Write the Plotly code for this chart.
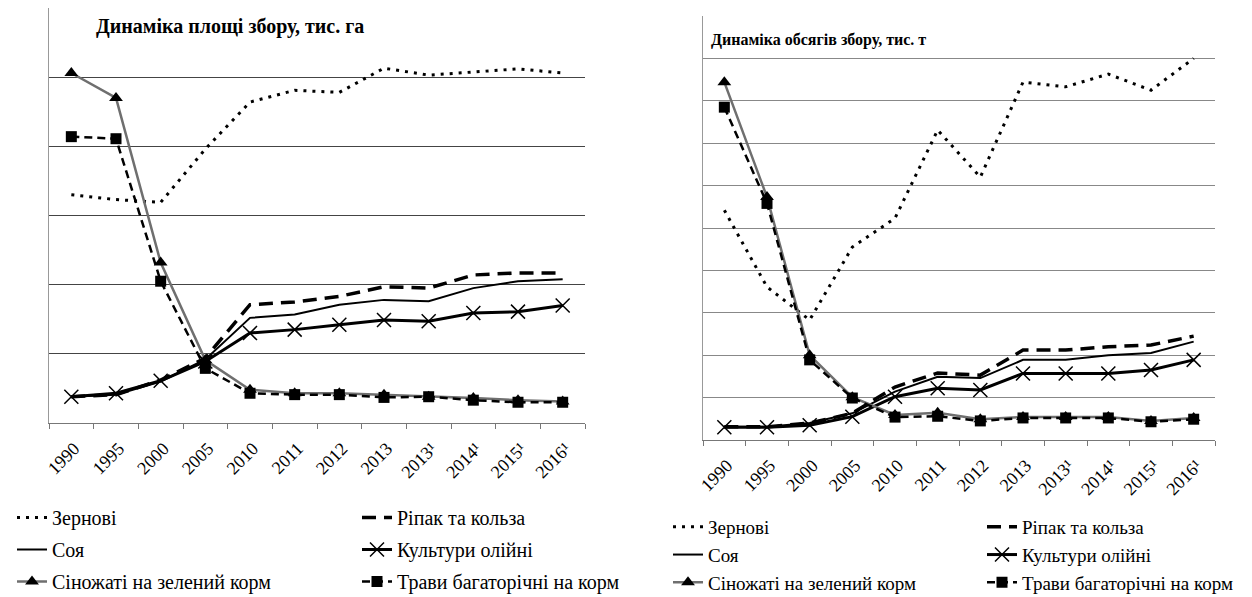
import plotly.graph_objects as go

categories = ["1990", "1995", "2000", "2005", "2010", "2011", "2012", "2013",
              "2013¹", "2014¹", "2015¹", "2016¹"]

# Left chart: area harvested (relative units)
area_grain = [3.30, 3.23, 3.19, 3.96, 4.64, 4.81, 4.78, 5.13, 5.03, 5.07, 5.12, 5.06]
area_rape = [0.38, 0.41, 0.62, 0.94, 1.71, 1.75, 1.83, 1.97, 1.95, 2.14, 2.17, 2.17]
area_soy = [0.38, 0.41, 0.60, 0.92, 1.52, 1.57, 1.71, 1.78, 1.76, 1.95, 2.05, 2.08]
area_oil = [0.38, 0.43, 0.61, 0.89, 1.30, 1.35, 1.42, 1.49, 1.47, 1.59, 1.61, 1.70]
area_hay = [5.06, 4.70, 2.32, 0.91, 0.48, 0.43, 0.43, 0.41, 0.38, 0.36, 0.33, 0.31]
area_grass = [4.14, 4.11, 2.05, 0.79, 0.43, 0.41, 0.41, 0.37, 0.38, 0.33, 0.30, 0.30]

# Right chart: harvest volume (relative units)
vol_grain = [5.42, 3.61, 2.83, 4.55, 5.23, 7.31, 6.20, 8.44, 8.33, 8.63, 8.25, 9.00]
vol_rape = [0.31, 0.31, 0.40, 0.63, 1.25, 1.58, 1.53, 2.12, 2.12, 2.20, 2.24, 2.45]
vol_soy = [0.31, 0.31, 0.40, 0.63, 1.14, 1.49, 1.46, 1.89, 1.89, 2.00, 2.05, 2.32]
vol_oil = [0.30, 0.30, 0.35, 0.55, 1.02, 1.22, 1.18, 1.57, 1.57, 1.57, 1.65, 1.89]
vol_hay = [8.44, 5.73, 2.00, 1.01, 0.59, 0.64, 0.49, 0.54, 0.54, 0.54, 0.45, 0.52]
vol_grass = [7.85, 5.58, 1.89, 0.99, 0.54, 0.56, 0.45, 0.52, 0.52, 0.52, 0.43, 0.49]

names = ["Зернові", "Ріпак та кольза", "Соя", "Культури олійні",
         "Сіножаті на зелений корм", "Трави багаторічні на корм"]

titles = ["Динаміка площі збору, тис. га", "Динаміка обсягів збору, тис. т"]

FONT = "Liberation Serif"

styles = [
    dict(line=dict(color="black", width=3, dash="3px,6px"), mode="lines"),
    dict(line=dict(color="black", width=3.5, dash="14px,8px"), mode="lines"),
    dict(line=dict(color="black", width=2), mode="lines"),
    dict(line=dict(color="black", width=3), mode="lines+markers",
         marker=dict(symbol="x-thin", size=14, line=dict(color="black", width=1.5))),
    dict(line=dict(color="#6f6f6f", width=2.5), mode="lines+markers",
         marker=dict(symbol="triangle-up", size=12, color="black")),
    dict(line=dict(color="black", width=2.5, dash="8px,5px"), mode="lines+markers",
         marker=dict(symbol="square", size=11, color="black")),
]

fig = go.Figure()

left_series = [area_grain, area_rape, area_soy, area_oil, area_hay, area_grass]
right_series = [vol_grain, vol_rape, vol_soy, vol_oil, vol_hay, vol_grass]

for i, (nm, ys) in enumerate(zip(names, left_series)):
    fig.add_trace(go.Scatter(x=categories, y=ys, name=nm, xaxis="x", yaxis="y",
                             legend="legend" if i % 2 == 0 else "legend2",
                             legendgroup="L%d" % i, **styles[i]))
for i, (nm, ys) in enumerate(zip(names, right_series)):
    fig.add_trace(go.Scatter(x=categories, y=ys, name=nm, xaxis="x2", yaxis="y2",
                             legend="legend3" if i % 2 == 0 else "legend4",
                             legendgroup="R%d" % i, **styles[i]))

# The page body has an 8px default margin, so the figure is drawn from (8, 8).
OFF = 8
W, H = 1252 - OFF, 597 - OFF

def px_x(p):
    return (p - OFF) / W

def px_y(p):
    return 1 - (p - OFF) / H

xcommon = dict(type="category", range=[-0.5, len(categories) - 0.5],
               tickson="boundaries", ticks="outside", ticklen=5,
               tickcolor="#777", showline=True, linecolor="#777", linewidth=1,
               tickangle=-45, showgrid=False, automargin=False,
               ticklabelstandoff=7, ticklabelshift=3,
               tickfont=dict(family=FONT, size=18, color="black"))

fig.update_layout(
    width=W, height=H,
    margin=dict(l=0, r=0, t=0, b=0, autoexpand=False),
    paper_bgcolor="white", plot_bgcolor="white",
    font=dict(family=FONT, color="black"),
    xaxis=dict(domain=[px_x(49), px_x(585)], anchor="y", **xcommon),
    xaxis2=dict(domain=[px_x(703), px_x(1215)], anchor="y2", **xcommon),
    yaxis=dict(domain=[px_y(423), px_y(8)], anchor="x", range=[0, 6],
               tickmode="array", tickvals=[1, 2, 3, 4, 5, 6], showticklabels=False,
               showgrid=True, gridcolor="#444", gridwidth=1, zeroline=False,
               showline=True, linecolor="#999", ticks="", automargin=False),
    yaxis2=dict(domain=[px_y(440), px_y(16)], anchor="x2", range=[0, 10],
                tickmode="array", tickvals=list(range(1, 11)), showticklabels=False,
                showgrid=True, gridcolor="#888", gridwidth=1, zeroline=False,
                showline=True, linecolor="#999", ticks="", automargin=False),
    showlegend=True,
)

def legend_box(xpage, ypage, size, gap):
    return dict(orientation="v", font=dict(family=FONT, size=size, color="black"),
                bgcolor="rgba(0,0,0,0)", borderwidth=0, xanchor="left",
                yanchor="top", itemwidth=30, tracegroupgap=gap,
                x=px_x(xpage), y=px_y(ypage))

fig.update_layout(
    legend=legend_box(12, 498, 20, 3),
    legend2=legend_box(357, 498, 20, 3),
    legend3=legend_box(668, 508, 19, 0),
    legend4=legend_box(982, 508, 19, 0),
)

fig.add_annotation(text="<b>" + titles[0] + "</b>", xref="paper", yref="paper",
                   x=px_x(94), y=px_y(27), xanchor="left", yanchor="middle",
                   showarrow=False, font=dict(family=FONT, size=20, color="black"))
fig.add_annotation(text="<b>" + titles[1] + "</b>", xref="paper", yref="paper",
                   x=px_x(709), y=px_y(40), xanchor="left", yanchor="middle",
                   showarrow=False, font=dict(family=FONT, size=16, color="black"))

fig.write_html("out.html")
